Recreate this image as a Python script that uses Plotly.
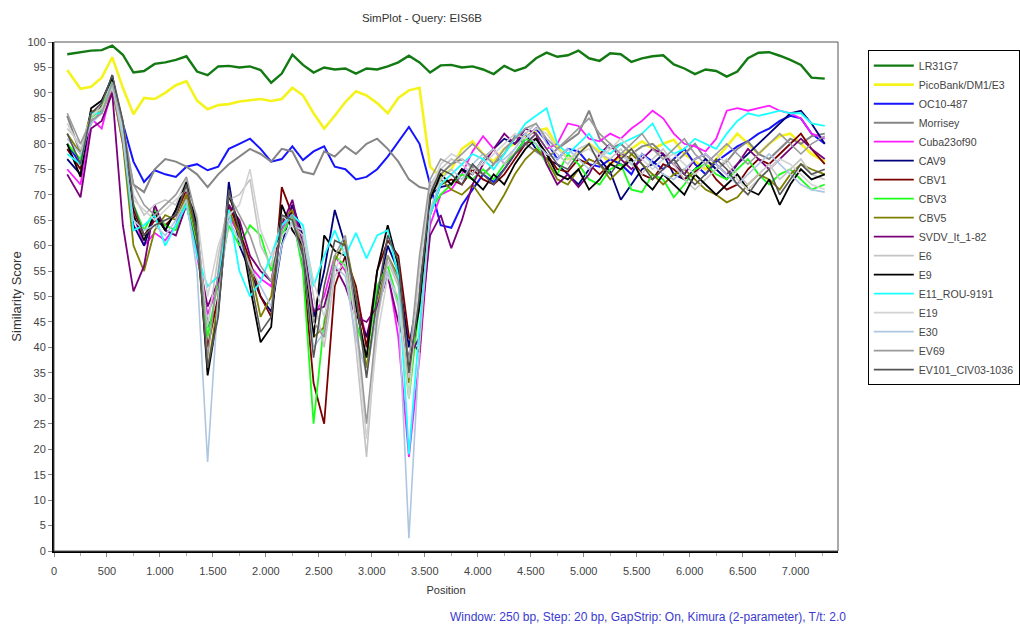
import plotly.graph_objects as go

# ---------------- data ----------------
POSITION = [125, 250, 350, 450, 550, 650, 750, 850, 950, 1050,
            1150, 1250, 1350, 1450, 1550, 1650, 1750, 1850, 1950, 2050,
            2150, 2250, 2350, 2450, 2550, 2650, 2750, 2850, 2950, 3050,
            3150, 3250, 3350, 3450, 3550, 3650, 3750, 3850, 3950, 4050,
            4150, 4250, 4350, 4450, 4550, 4650, 4750, 4850, 4950, 5050,
            5150, 5250, 5350, 5450, 5550, 5650, 5750, 5850, 5950, 6050,
            6150, 6250, 6350, 6450, 6550, 6650, 6750, 6850, 6950, 7050,
            7150, 7275]

LR31G7 = [97.6, 98.0, 98.3, 98.4, 99.3, 97.5, 94.0, 94.3, 95.7, 96.0,
          96.5, 97.2, 94.2, 93.5, 95.2, 95.3, 95.0, 95.2, 94.5, 92.0,
          93.8, 97.5, 95.5, 94.0, 95.0, 94.6, 94.8, 93.8, 94.8, 94.6,
          95.2, 96.0, 97.3, 96.0, 94.0, 95.4, 95.5, 95.0, 95.2, 94.6,
          93.7, 95.3, 94.3, 95.0, 96.8, 97.9, 97.1, 97.4, 98.3, 96.8,
          96.3, 97.8, 97.6, 96.1, 96.8, 97.2, 97.4, 95.6, 94.8, 93.7,
          94.6, 94.3, 93.2, 94.2, 96.8, 97.9, 98.0, 97.3, 96.5, 95.5,
          93.0, 92.8]
PICOBANK = [94.5, 90.8, 91.2, 93.0, 97.0, 91.0, 85.8, 89.0, 88.8, 90.0,
            91.5, 92.3, 88.5, 86.8, 87.6, 87.8, 88.3, 88.6, 88.8, 88.4,
            88.8, 91.0, 89.5, 86.0, 83.0, 85.5, 88.2, 90.3, 89.5, 88.0,
            86.0, 89.0, 90.5, 91.0, 75.5, 73.5, 75.0, 79.0, 80.5, 78.0,
            76.5, 79.0, 80.0, 81.5, 82.5, 83.0, 79.5, 77.0, 78.0, 80.0,
            78.5, 76.0, 77.5, 79.0, 80.5, 79.0, 80.0, 80.8, 78.0, 76.5,
            75.0, 77.0, 79.5, 82.0, 80.0, 78.0, 80.0, 81.5, 82.0, 80.0,
            78.0, 76.5]
OC10_487 = [80.0, 76.0, 85.5, 88.0, 93.0, 84.0, 76.5, 72.5, 74.8, 74.0,
            73.5, 75.5, 76.0, 74.8, 75.5, 79.0, 80.0, 81.0, 79.0, 76.5,
            77.0, 79.5, 76.8, 78.5, 79.5, 75.5, 75.0, 73.0, 73.5, 75.0,
            77.5, 80.5, 83.3, 80.0, 72.0, 64.0, 63.5, 68.0, 71.0, 74.0,
            72.5, 75.0, 78.0, 81.0, 83.0, 80.5, 77.0, 79.0, 78.5, 76.0,
            75.5, 77.0, 76.0, 74.0, 78.0, 76.5, 75.0, 77.0, 79.0, 76.0,
            74.0, 76.5, 78.0, 79.5, 80.5, 82.0, 83.0, 84.5, 85.5, 85.0,
            82.0, 80.0]
MORRISEY = [85.5, 78.0, 84.0, 86.5, 91.5, 82.0, 72.0, 70.5, 75.0, 77.0,
            76.5, 75.5, 74.0, 71.5, 74.0, 76.0, 77.5, 79.0, 78.0, 76.5,
            79.0, 78.5, 74.5, 74.0, 78.5, 77.5, 79.5, 78.0, 80.0, 81.0,
            79.0, 76.5, 73.0, 71.5, 71.0, 74.0, 76.0, 77.0, 75.5, 74.0,
            76.0, 78.0, 81.5, 80.0, 78.5, 77.0, 79.0, 80.5, 82.0, 86.5,
            81.0, 79.0, 80.0, 78.0, 79.5, 80.0, 78.0, 76.0, 78.0, 80.0,
            77.0, 75.0, 76.5, 79.0, 80.5, 78.0, 77.0, 79.0, 81.0, 80.0,
            81.5, 82.0]
CUBA23OF90 = [75.0, 72.0, 85.0, 83.0, 91.0, 80.0, 66.0, 60.0, 62.5, 61.0,
              64.0, 70.0, 58.0, 46.5, 52.0, 66.0, 62.0, 56.0, 53.5, 52.0,
              63.0, 68.0, 58.5, 46.0, 50.0, 58.0, 55.0, 50.0, 42.0, 52.0,
              55.0, 42.0, 18.5, 38.0, 64.0, 70.0, 71.0, 74.0, 78.5, 81.5,
              79.0, 76.0, 78.0, 80.0, 82.0, 79.0, 80.0, 84.0, 83.5, 81.0,
              80.5, 82.0, 81.0, 83.0, 84.5, 86.5, 85.0, 82.0, 80.0, 79.5,
              78.5, 81.0, 86.5, 87.0, 86.5, 87.0, 87.5, 86.5, 86.0, 85.0,
              82.0, 81.0]
CAV9 = [77.0, 74.0, 86.0, 87.0, 93.5, 82.0, 64.0, 60.0, 66.0, 63.0,
        67.0, 72.0, 63.0, 44.0, 48.0, 72.5, 60.0, 55.0, 50.0, 47.0,
        60.0, 68.0, 62.0, 46.0, 55.0, 67.0, 60.0, 48.0, 42.0, 50.0,
        60.0, 55.0, 40.0, 52.0, 70.0, 71.5, 72.0, 75.0, 74.0, 77.0,
        79.0, 81.0, 80.0, 82.0, 79.0, 77.0, 76.0, 74.0, 72.0, 75.0,
        77.0, 74.5, 69.0, 72.0, 75.0, 76.0, 78.0, 74.0, 73.0, 75.0,
        77.0, 75.0, 73.0, 76.0, 78.0, 80.0, 82.0, 84.0, 86.0, 86.5,
        84.0, 80.0]
CBV1 = [79.0, 75.0, 86.0, 87.5, 92.0, 83.0, 67.0, 62.0, 65.0, 64.0,
        66.0, 71.0, 61.0, 40.0, 50.0, 68.0, 63.0, 57.0, 50.0, 46.0,
        71.5, 66.0, 56.0, 33.0, 25.0, 52.0, 58.0, 52.0, 40.0, 55.0,
        61.0, 58.0, 42.0, 39.0, 66.0, 72.0, 73.0, 72.0, 75.0, 73.0,
        72.0, 74.0, 77.0, 80.0, 81.0, 78.0, 75.0, 74.5, 77.0, 76.0,
        74.0, 76.0, 78.0, 77.0, 74.0, 73.0, 76.0, 75.0, 73.0, 74.5,
        76.0, 73.0, 71.0, 72.0, 75.0, 77.0, 76.0, 78.0, 80.0, 82.0,
        79.0, 76.0]
CBV3 = [80.0, 77.0, 85.0, 87.0, 92.5, 84.0, 68.0, 63.0, 67.0, 64.0,
        63.0, 69.0, 60.0, 42.0, 53.0, 64.0, 60.0, 64.0, 62.0, 55.0,
        62.0, 66.0, 55.0, 25.0, 45.0, 58.0, 56.0, 45.0, 38.0, 52.0,
        56.0, 49.0, 30.0, 48.0, 67.0, 70.0, 72.0, 74.0, 73.0, 75.0,
        73.0, 76.0, 78.0, 81.0, 80.0, 76.0, 74.0, 78.0, 76.0, 73.0,
        72.0, 75.0, 76.0, 71.0, 70.5, 74.0, 73.0, 69.5, 72.0, 75.0,
        76.0, 74.0, 73.0, 75.0, 77.0, 74.0, 72.0, 74.0, 75.0, 73.0,
        71.0, 72.0]
CBV5 = [82.0, 78.0, 86.5, 86.0, 91.0, 80.0, 60.0, 55.0, 63.0, 66.0,
        65.0, 70.0, 62.0, 35.5, 49.0, 67.0, 62.0, 56.0, 46.0, 50.0,
        65.0, 67.0, 58.0, 42.0, 44.0, 57.0, 61.0, 50.0, 36.0, 48.0,
        58.0, 54.0, 33.0, 50.0, 70.0, 73.0, 71.0, 70.0, 72.0, 69.0,
        66.5, 70.0, 74.0, 77.0, 79.0, 77.0, 73.0, 72.0, 75.0, 77.0,
        76.0, 73.0, 75.0, 78.0, 76.0, 74.0, 72.0, 74.0, 75.0, 73.0,
        71.0, 70.0, 68.5, 69.5, 72.0, 74.0, 73.0, 71.0, 74.0, 76.0,
        75.0, 74.0]
SVDV = [74.0, 69.5, 83.0, 84.5, 90.0, 64.0, 51.0, 56.0, 68.0, 63.0,
        62.0, 68.0, 59.0, 48.0, 53.0, 68.0, 65.0, 58.0, 55.0, 53.0,
        64.0, 69.0, 60.0, 47.0, 48.0, 56.0, 52.0, 46.0, 45.0, 48.0,
        54.0, 45.0, 38.0, 42.0, 62.0, 66.0, 59.5, 65.0, 72.0, 76.0,
        79.0, 82.0, 80.0, 83.0, 82.0, 76.0, 72.0, 74.0, 71.5, 74.0,
        78.0, 80.0, 77.0, 75.0, 77.0, 79.0, 78.0, 76.0, 74.0, 77.0,
        78.0, 76.0, 74.0, 76.0, 79.0, 77.0, 75.0, 77.0, 79.0, 81.0,
        79.0, 77.0]
E6 = [83.0, 80.0, 85.0, 88.0, 92.0, 84.0, 70.0, 66.0, 68.0, 69.0,
      68.0, 73.0, 64.0, 44.0, 58.0, 69.0, 70.0, 73.0, 60.0, 56.0,
      66.0, 64.0, 62.0, 50.0, 40.0, 54.0, 57.0, 40.0, 18.5, 45.0,
      57.0, 52.0, 34.0, 56.0, 72.0, 75.0, 77.0, 76.0, 74.0, 77.0,
      79.0, 76.0, 79.0, 82.0, 84.0, 80.0, 78.0, 76.0, 79.0, 80.0,
      78.0, 77.0, 79.0, 76.0, 74.0, 77.0, 79.0, 76.0, 73.0, 71.0,
      73.0, 75.0, 77.0, 74.0, 72.0, 74.0, 76.0, 73.0, 75.0, 77.0,
      74.0, 73.0]
E9 = [80.0, 73.5, 87.0, 88.5, 93.0, 83.0, 66.0, 61.0, 66.5, 63.0,
      67.0, 72.5, 64.0, 34.5, 47.0, 70.0, 64.0, 52.0, 41.0, 44.0,
      68.0, 63.0, 60.0, 42.0, 62.0, 59.0, 58.0, 48.0, 38.0, 55.0,
      64.0, 56.0, 36.0, 48.0, 69.0, 74.0, 72.0, 75.0, 73.0, 71.0,
      74.0, 72.0, 76.0, 79.0, 81.0, 78.0, 74.0, 73.0, 75.0, 71.0,
      73.0, 76.0, 75.0, 77.0, 73.0, 71.0, 74.0, 72.0, 70.0, 74.0,
      72.0, 70.0, 72.0, 74.0, 71.0, 70.0, 73.0, 68.0, 72.0, 75.0,
      73.0, 74.0]
E11_ROU = [78.0, 76.0, 86.0, 86.0, 92.0, 82.0, 63.0, 64.0, 66.0, 60.0,
           64.0, 68.0, 58.0, 52.0, 54.0, 67.0, 55.0, 50.0, 53.0, 58.0,
           64.0, 66.0, 64.0, 52.0, 58.0, 63.0, 58.0, 62.5, 57.5, 62.0,
           63.0, 54.0, 19.0, 44.0, 66.0, 72.0, 74.0, 76.0, 78.0, 77.0,
           75.0, 78.0, 81.0, 84.0, 85.5, 87.0, 80.0, 78.0, 80.0, 82.0,
           79.0, 78.0, 80.0, 81.0, 82.0, 84.0, 80.0, 78.0, 79.0, 81.0,
           80.0, 79.0, 82.0, 84.5, 86.0, 85.5, 86.0, 86.5, 86.0, 86.0,
           84.0, 83.5]
E19 = [84.0, 79.0, 85.5, 87.0, 91.0, 83.0, 69.0, 67.0, 65.0, 67.0,
       69.0, 71.0, 66.0, 50.0, 60.0, 66.0, 68.0, 75.0, 63.0, 58.0,
       62.0, 64.0, 63.0, 53.0, 46.0, 55.0, 60.0, 44.0, 22.0, 42.0,
       54.0, 50.0, 30.0, 54.0, 71.0, 76.0, 78.0, 77.0, 75.0, 76.0,
       78.0, 80.0, 82.0, 81.0, 83.0, 82.0, 79.0, 77.0, 78.0, 79.0,
       77.0, 79.0, 81.0, 79.0, 77.0, 75.0, 77.0, 78.0, 76.0, 74.0,
       76.0, 78.0, 76.0, 73.0, 71.0, 73.0, 75.0, 77.0, 76.0, 74.0,
       72.0, 71.0]
E30 = [81.0, 78.0, 84.0, 86.0, 91.5, 81.0, 65.0, 63.0, 64.0, 62.0,
       65.0, 69.0, 55.0, 17.5, 50.0, 65.0, 61.0, 56.0, 52.0, 48.0,
       60.0, 65.0, 57.0, 40.0, 43.0, 56.0, 54.0, 42.0, 35.0, 47.0,
       55.0, 48.0, 2.5, 40.0, 67.0, 73.0, 75.0, 73.0, 76.0, 78.0,
       76.0, 77.0, 79.0, 82.0, 80.0, 78.0, 77.0, 79.0, 77.0, 75.0,
       77.0, 80.0, 78.0, 76.0, 78.0, 76.0, 74.0, 73.0, 75.0, 77.0,
       78.0, 76.0, 74.0, 72.0, 74.0, 76.0, 78.0, 76.0, 74.0, 72.0,
       71.0, 70.5]
EV69 = [86.0, 80.0, 84.5, 86.0, 92.0, 84.0, 72.0, 68.0, 66.0, 68.0,
        70.0, 73.5, 65.0, 38.0, 55.0, 70.0, 66.0, 62.0, 56.0, 53.0,
        63.0, 66.0, 60.0, 45.0, 42.0, 58.0, 62.0, 46.0, 25.0, 46.0,
        58.0, 53.0, 37.0, 58.0, 73.0, 77.0, 76.0, 78.0, 80.0, 78.0,
        76.0, 79.0, 81.0, 83.0, 84.0, 81.0, 79.0, 81.0, 83.0, 85.0,
        82.0, 80.0, 78.0, 80.0, 82.0, 79.0, 77.0, 79.0, 81.0, 78.0,
        76.0, 78.0, 80.0, 78.0, 76.0, 78.0, 80.0, 82.0, 80.0, 78.0,
        80.0, 81.5]
EV101 = [82.0, 76.0, 86.0, 88.0, 93.5, 84.5, 68.0, 62.0, 64.0, 65.0,
         66.0, 72.0, 62.0, 36.0, 46.0, 71.0, 63.0, 54.0, 43.0, 46.0,
         66.0, 65.0, 58.0, 38.0, 52.0, 61.0, 60.0, 50.0, 34.0, 50.0,
         62.0, 57.0, 35.0, 50.0, 70.0, 75.0, 74.0, 72.0, 76.0, 74.0,
         72.0, 75.0, 78.0, 80.0, 82.0, 79.0, 76.0, 75.0, 78.0, 80.0,
         76.0, 74.0, 77.0, 79.0, 76.0, 73.0, 75.0, 77.0, 74.0, 72.0,
         74.0, 77.0, 75.0, 72.0, 70.0, 73.0, 75.0, 70.0, 73.0, 76.0,
         74.0, 75.0]

SERIES_NAMES = ["LR31G7", "PicoBank/DM1/E3", "OC10-487", "Morrisey", "Cuba23of90",
                "CAV9", "CBV1", "CBV3", "CBV5", "SVDV_It_1-82", "E6", "E9",
                "E11_ROU-9191", "E19", "E30", "EV69", "EV101_CIV03-1036"]
SERIES_VALUES = [LR31G7, PICOBANK, OC10_487, MORRISEY, CUBA23OF90, CAV9, CBV1,
                 CBV3, CBV5, SVDV, E6, E9, E11_ROU, E19, E30, EV69, EV101]

X_TICK_VALUES = [0, 500, 1000, 1500, 2000, 2500, 3000, 3500, 4000, 4500,
                 5000, 5500, 6000, 6500, 7000]
X_TICK_LABELS = ["0", "500", "1.000", "1.500", "2.000", "2.500", "3.000", "3.500",
                 "4.000", "4.500", "5.000", "5.500", "6.000", "6.500", "7.000"]

# ---------------- styles ----------------
COLORS = ["#137a13", "#f4f41c", "#1414ff", "#858585", "#ff1aff",
          "#00007a", "#7a0000", "#1aff1a", "#7f7f00", "#7a007a", "#c4c4c4",
          "#000000", "#1affff", "#d2d2d2", "#aec6e0", "#9a9a9a", "#555555"]
WIDTHS = [2.4, 2.6, 2.0, 2.0, 1.8, 1.8, 1.8, 1.8, 1.8, 1.8, 1.6, 1.8, 1.8,
          1.6, 1.6, 1.6, 1.6]

FONT = "Liberation Sans"

fig = go.Figure()
for name, vals, col, w in zip(SERIES_NAMES, SERIES_VALUES, COLORS, WIDTHS):
    fig.add_trace(go.Scatter(x=POSITION, y=vals, mode="lines", name=name,
                             line=dict(color=col, width=w)))

fig.update_layout(
    width=1020, height=625,
    margin=dict(l=54, r=182, t=42, b=74, autoexpand=False),
    paper_bgcolor="white", plot_bgcolor="white",
    font=dict(family=FONT, size=11, color="#333333"),
    title=dict(text="SimPlot - Query: EIS6B", x=0.4137, xanchor="center",
               y=0.9712, yanchor="middle", font=dict(family=FONT, size=11.5, color="#333333")),
    showlegend=True,
    legend=dict(x=1.038, xanchor="left", y=0.984, yanchor="top",
                bordercolor="#000000", borderwidth=1, bgcolor="white",
                font=dict(family=FONT, size=10.6, color="#444444"),
                itemwidth=40, tracegroupgap=0),
    xaxis=dict(range=[0, 7400], tickmode="array", tickvals=X_TICK_VALUES,
               ticktext=X_TICK_LABELS, showgrid=False, zeroline=False,
               showline=True, linecolor="#000000", linewidth=2, automargin=False,
               ticks="outside", ticklen=4, tickcolor="#888888",
               ticklabelstandoff=5,
               minor=dict(dtick=250, ticks="outside", ticklen=3, tickcolor="#aaaaaa"),
               title=dict(text="Position", font=dict(family=FONT, size=11, color="#333333"),
                          standoff=10),
               tickfont=dict(family=FONT, size=11, color="#444444")),
    yaxis=dict(range=[0, 100], dtick=5, tick0=0, showgrid=False, zeroline=False,
               showline=True, linecolor="#000000", linewidth=2, automargin=False,
               ticks="outside", ticklen=4, tickcolor="#888888",
               title=dict(text="Similarity Score", font=dict(family=FONT, size=13, color="#333333"),
                          standoff=3),
               tickfont=dict(family=FONT, size=11, color="#444444")),
    shapes=[dict(type="rect", xref="paper", yref="paper", x0=0, x1=1, y0=0, y1=1,
                 line=dict(color="#555555", width=1), layer="above")],
    annotations=[dict(text="Window: 250 bp, Step: 20 bp, GapStrip: On, Kimura (2-parameter), T/t: 2.0",
                      xref="paper", yref="paper", x=1.013, y=-0.13, xanchor="right",
                      yanchor="middle", showarrow=False,
                      font=dict(family=FONT, size=12, color="#3a3ad0"))],
)

# remove the default page margin so the figure fills the 1020x625 window exactly
fig.write_html("out.html", config={"displayModeBar": False},
               post_script="document.body.style.margin='0px';document.body.style.overflow='hidden';")
